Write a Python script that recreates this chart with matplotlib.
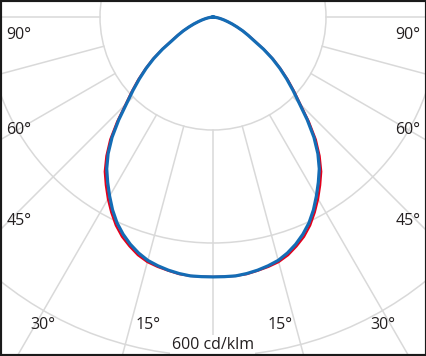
import matplotlib

matplotlib.use('Agg')
import matplotlib.pyplot as plt
import numpy as np
from matplotlib.patches import Circle

# gamma angles (deg from nadir) and intensities in cd/klm
ANGLES = [0, 2.5, 5, 7.5, 10, 12.5, 15, 17.5, 20, 22.5, 25, 27.5, 30, 32.5, 35, 37.5,
          40, 42.5, 45, 47.5, 50, 52.5, 55, 57.5, 60, 62.5, 65, 67.5, 70, 72.5, 75,
          77.5, 80, 85, 90]
# C0-C180 plane (red)
C0_C180 = [460, 460, 460, 459, 456, 453, 449, 442, 432, 421, 407, 390, 372, 353, 334, 310,
           283, 251, 219, 195, 173, 151, 130, 107, 86, 71, 58, 46, 36, 27, 20,
           14, 9, 3, 0]
# C90-C270 plane (blue)
C90_C270 = [460, 460, 460, 458, 455, 451, 446, 438, 428, 416, 402, 385, 366, 347, 328, 305,
            278, 247, 216, 192, 170, 149, 128, 106, 84, 70, 58, 46, 36, 27, 20,
            14, 9, 3, 0]

RINGS = [200, 400, 600]
SPOKES = list(range(-90, 91, 15))
SCALE_LABEL = "600 cd/klm"

# angle labels: (text, x px, y px)
ANGLE_LABELS = [
    ("90°", 19, 35), ("60°", 19, 130), ("45°", 19, 221), ("30°", 43, 325), ("15°", 148, 325),
    ("90°", 408, 35), ("60°", 408, 130), ("45°", 408, 221), ("30°", 383, 325), ("15°", 280, 325),
]

W, H = 427, 356
CX, CY = 213, 17
PX_PER_CD = 0.565

GRID = '#d9d9d9'
RED = '#e3001b'
BLUE = '#146cb5'
TXT = '#231f20'


def half_curve(angles, values):
    g = np.radians(np.array(angles))
    r = np.array(values)
    # right half (positive gamma) and left half mirrored
    gg = np.concatenate([-g[::-1], g[1:]])
    rr = np.concatenate([r[::-1], r[1:]])
    return rr * np.sin(gg), -rr * np.cos(gg)


fig = plt.figure(figsize=(W / 100, H / 100), dpi=100)
ax = fig.add_axes([0, 0, 1, 1])
ax.set_xlim(-CX / PX_PER_CD, (W - CX) / PX_PER_CD)
ax.set_ylim(-(H - CY) / PX_PER_CD, CY / PX_PER_CD)
ax.set_aspect('equal')
ax.set_xticks([])
ax.set_yticks([])

# grid
for r in RINGS:
    ax.add_patch(Circle((0, 0), r, fill=False, edgecolor=GRID, lw=1.1, zorder=1))
for a in SPOKES:
    t = np.radians(a)
    ax.plot([RINGS[0] * np.sin(t), 1200 * np.sin(t)], [-RINGS[0] * np.cos(t), -1200 * np.cos(t)],
            color=GRID, lw=1.1, zorder=1)

x, y = half_curve(ANGLES, C0_C180)
ax.plot(x, y, color=RED, lw=1.6, zorder=3, solid_joinstyle='round')
x, y = half_curve(ANGLES, C90_C270)
ax.plot(x, y, color=BLUE, lw=2.3, zorder=4, solid_joinstyle='round')

for txt, px, py in ANGLE_LABELS:
    ax.text(px / W, 1 - py / H, txt, transform=ax.transAxes, ha='center', va='center',
            fontsize=11.5, color=TXT, family='Open Sans')

ax.text(0, -RINGS[-1] + 20, SCALE_LABEL, ha='center', va='center', fontsize=11.5, color=TXT,
        family='Open Sans', zorder=5,
        bbox=dict(facecolor='white', edgecolor='none', pad=1.0))

for s in ax.spines.values():
    s.set_color('#1a1a1a')
    s.set_linewidth(3)
    s.set_zorder(10)

fig.savefig('out.png', dpi=100)
